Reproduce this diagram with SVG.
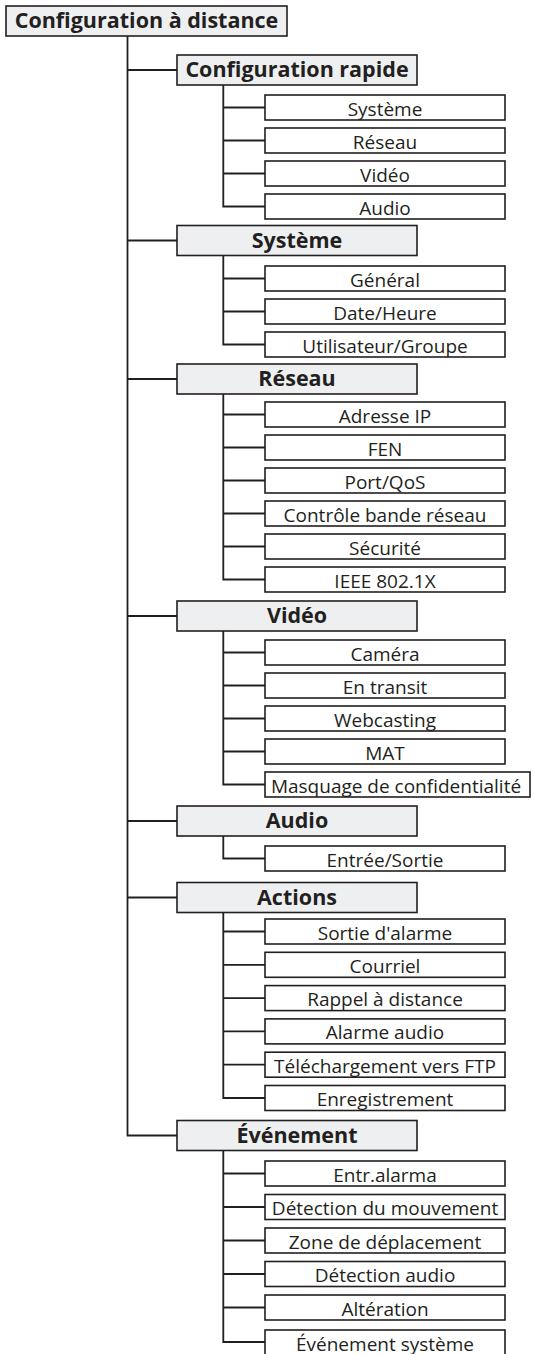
<svg xmlns="http://www.w3.org/2000/svg" width="534" height="1354" viewBox="0 0 534 1354">
<style>
.bx0{fill:#eeeff0;stroke:#231f20;stroke-width:1.6}
.bx1{fill:#eeeff0;stroke:#231f20;stroke-width:1.6}
.bx2{fill:#ffffff;stroke:#231f20;stroke-width:1.6}
.tb{font-family:"Open Sans","Liberation Sans",sans-serif;font-weight:bold;font-size:21.5px;fill:#231f20;text-anchor:middle}
.tr{font-family:"Open Sans","Liberation Sans",sans-serif;font-size:19px;fill:#231f20;text-anchor:middle}
.cn{fill:none;stroke:#231f20;stroke-width:1.8}
</style>
<rect width="534" height="1354" fill="#ffffff"/>
<g id="connectors" class="cn">
<path d="M127.5 36V1135.5H177M127.5 70H177M127.5 240.5H177M127.5 379H177M127.5 616H177M127.5 821H177M127.5 897.5H177"/>
<path d="M223.3 85V206.5H265M223.3 107.5H265M223.3 140.5H265M223.3 173.5H265"/>
<path d="M223.3 255.5V344.5H265M223.3 278.5H265M223.3 311.5H265"/>
<path d="M223.3 394V579.5H265M223.3 414.5H265M223.3 447.5H265M223.3 480.5H265M223.3 513.5H265M223.3 546.5H265"/>
<path d="M223.3 631V784.5H265M223.3 652.5H265M223.3 685.5H265M223.3 718.5H265M223.3 751.5H265"/>
<path d="M223.3 836V858.5H265"/>
<path d="M223.3 912.5V1098H265M223.3 931.5H265M223.3 964.8H265M223.3 998.1H265M223.3 1031.4H265M223.3 1064.7H265"/>
<path d="M223.3 1150.5V1342H265M223.3 1173.5H265M223.3 1207H265M223.3 1240.5H265M223.3 1274H265M223.3 1307.5H265"/>
</g>
<g id="root"><rect class="bx0" x="6" y="6" width="281" height="30"/><text class="tb" x="146.5" y="28">Configuration à distance</text></g>

<g id="n-config-rapide"><rect class="bx1" x="177" y="55" width="240" height="30"/><text class="tb" x="297" y="77">Configuration rapide</text></g>
<g id="n-cr-systeme"><rect class="bx2" x="265" y="95" width="240" height="25"/><text class="tr" x="385" y="115.5">Système</text></g>
<g id="n-cr-reseau"><rect class="bx2" x="265" y="128" width="240" height="25"/><text class="tr" x="385" y="148.5">Réseau</text></g>
<g id="n-cr-video"><rect class="bx2" x="265" y="161" width="240" height="25"/><text class="tr" x="385" y="181.5">Vidéo</text></g>
<g id="n-cr-audio"><rect class="bx2" x="265" y="194" width="240" height="25"/><text class="tr" x="385" y="214.5">Audio</text></g>

<g id="n-systeme"><rect class="bx1" x="177" y="225.5" width="240" height="30"/><text class="tb" x="297" y="247.5">Système</text></g>
<g id="n-general"><rect class="bx2" x="265" y="266" width="240" height="25"/><text class="tr" x="385" y="286.5">Général</text></g>
<g id="n-dateheure"><rect class="bx2" x="265" y="299" width="240" height="25"/><text class="tr" x="385" y="319.5">Date/Heure</text></g>
<g id="n-utilisateur"><rect class="bx2" x="265" y="332" width="240" height="25"/><text class="tr" x="385" y="352.5">Utilisateur/Groupe</text></g>

<g id="n-reseau"><rect class="bx1" x="177" y="364" width="240" height="30"/><text class="tb" x="297" y="386">Réseau</text></g>
<g id="n-adresse-ip"><rect class="bx2" x="265" y="402" width="240" height="25"/><text class="tr" x="385" y="422.5">Adresse IP</text></g>
<g id="n-fen"><rect class="bx2" x="265" y="435" width="240" height="25"/><text class="tr" x="385" y="455.5">FEN</text></g>
<g id="n-port-qos"><rect class="bx2" x="265" y="468" width="240" height="25"/><text class="tr" x="385" y="488.5">Port/QoS</text></g>
<g id="n-controle"><rect class="bx2" x="265" y="501" width="240" height="25"/><text class="tr" x="385" y="521.5">Contrôle bande réseau</text></g>
<g id="n-securite"><rect class="bx2" x="265" y="534" width="240" height="25"/><text class="tr" x="385" y="554.5">Sécurité</text></g>
<g id="n-ieee"><rect class="bx2" x="265" y="567" width="240" height="25"/><text class="tr" x="385" y="587.5">IEEE 802.1X</text></g>

<g id="n-video"><rect class="bx1" x="177" y="601" width="240" height="30"/><text class="tb" x="297" y="623">Vidéo</text></g>
<g id="n-camera"><rect class="bx2" x="265" y="640" width="240" height="25"/><text class="tr" x="385" y="660.5">Caméra</text></g>
<g id="n-en-transit"><rect class="bx2" x="265" y="673" width="240" height="25"/><text class="tr" x="385" y="693.5">En transit</text></g>
<g id="n-webcasting"><rect class="bx2" x="265" y="706" width="240" height="25"/><text class="tr" x="385" y="726.5">Webcasting</text></g>
<g id="n-mat"><rect class="bx2" x="265" y="739" width="240" height="25"/><text class="tr" x="385" y="759.5">MAT</text></g>
<g id="n-masquage"><rect class="bx2" x="265" y="772" width="265" height="25"/><text class="tr" x="396" y="792.5">Masquage de confidentialité</text></g>

<g id="n-audio"><rect class="bx1" x="177" y="806" width="240" height="30"/><text class="tb" x="297" y="828">Audio</text></g>
<g id="n-entree-sortie"><rect class="bx2" x="265" y="846" width="240" height="25"/><text class="tr" x="385" y="866.5">Entrée/Sortie</text></g>

<g id="n-actions"><rect class="bx1" x="177" y="882.5" width="240" height="30"/><text class="tb" x="297" y="904.5">Actions</text></g>
<g id="n-sortie-alarme"><rect class="bx2" x="265" y="919" width="240" height="25"/><text class="tr" x="385" y="939.5">Sortie d'alarme</text></g>
<g id="n-courriel"><rect class="bx2" x="265" y="952.3" width="240" height="25"/><text class="tr" x="385" y="972.8">Courriel</text></g>
<g id="n-rappel"><rect class="bx2" x="265" y="985.6" width="240" height="25"/><text class="tr" x="385" y="1006.1">Rappel à distance</text></g>
<g id="n-alarme-audio"><rect class="bx2" x="265" y="1018.9" width="240" height="25"/><text class="tr" x="385" y="1039.4">Alarme audio</text></g>
<g id="n-telechargement"><rect class="bx2" x="265" y="1052.2" width="240" height="25"/><text class="tr" x="385" y="1072.7">Téléchargement vers FTP</text></g>
<g id="n-enregistrement"><rect class="bx2" x="265" y="1085.5" width="240" height="25"/><text class="tr" x="385" y="1106">Enregistrement</text></g>

<g id="n-evenement"><rect class="bx1" x="177" y="1120.5" width="240" height="30"/><text class="tb" x="297" y="1142.5">Événement</text></g>
<g id="n-entr-alarma"><rect class="bx2" x="265" y="1161" width="240" height="25"/><text class="tr" x="385" y="1181.5">Entr.alarma</text></g>
<g id="n-detection-mouvement"><rect class="bx2" x="265" y="1194.5" width="240" height="25"/><text class="tr" x="385" y="1215">Détection du mouvement</text></g>
<g id="n-zone"><rect class="bx2" x="265" y="1228" width="240" height="25"/><text class="tr" x="385" y="1248.5">Zone de déplacement</text></g>
<g id="n-detection-audio"><rect class="bx2" x="265" y="1261.5" width="240" height="25"/><text class="tr" x="385" y="1282">Détection audio</text></g>
<g id="n-alteration"><rect class="bx2" x="265" y="1295" width="240" height="25"/><text class="tr" x="385" y="1315.5">Altération</text></g>
<g id="n-evenement-systeme"><rect class="bx2" x="265" y="1330" width="240" height="26"/><text class="tr" x="385" y="1350.5">Événement système</text></g>
</svg>
